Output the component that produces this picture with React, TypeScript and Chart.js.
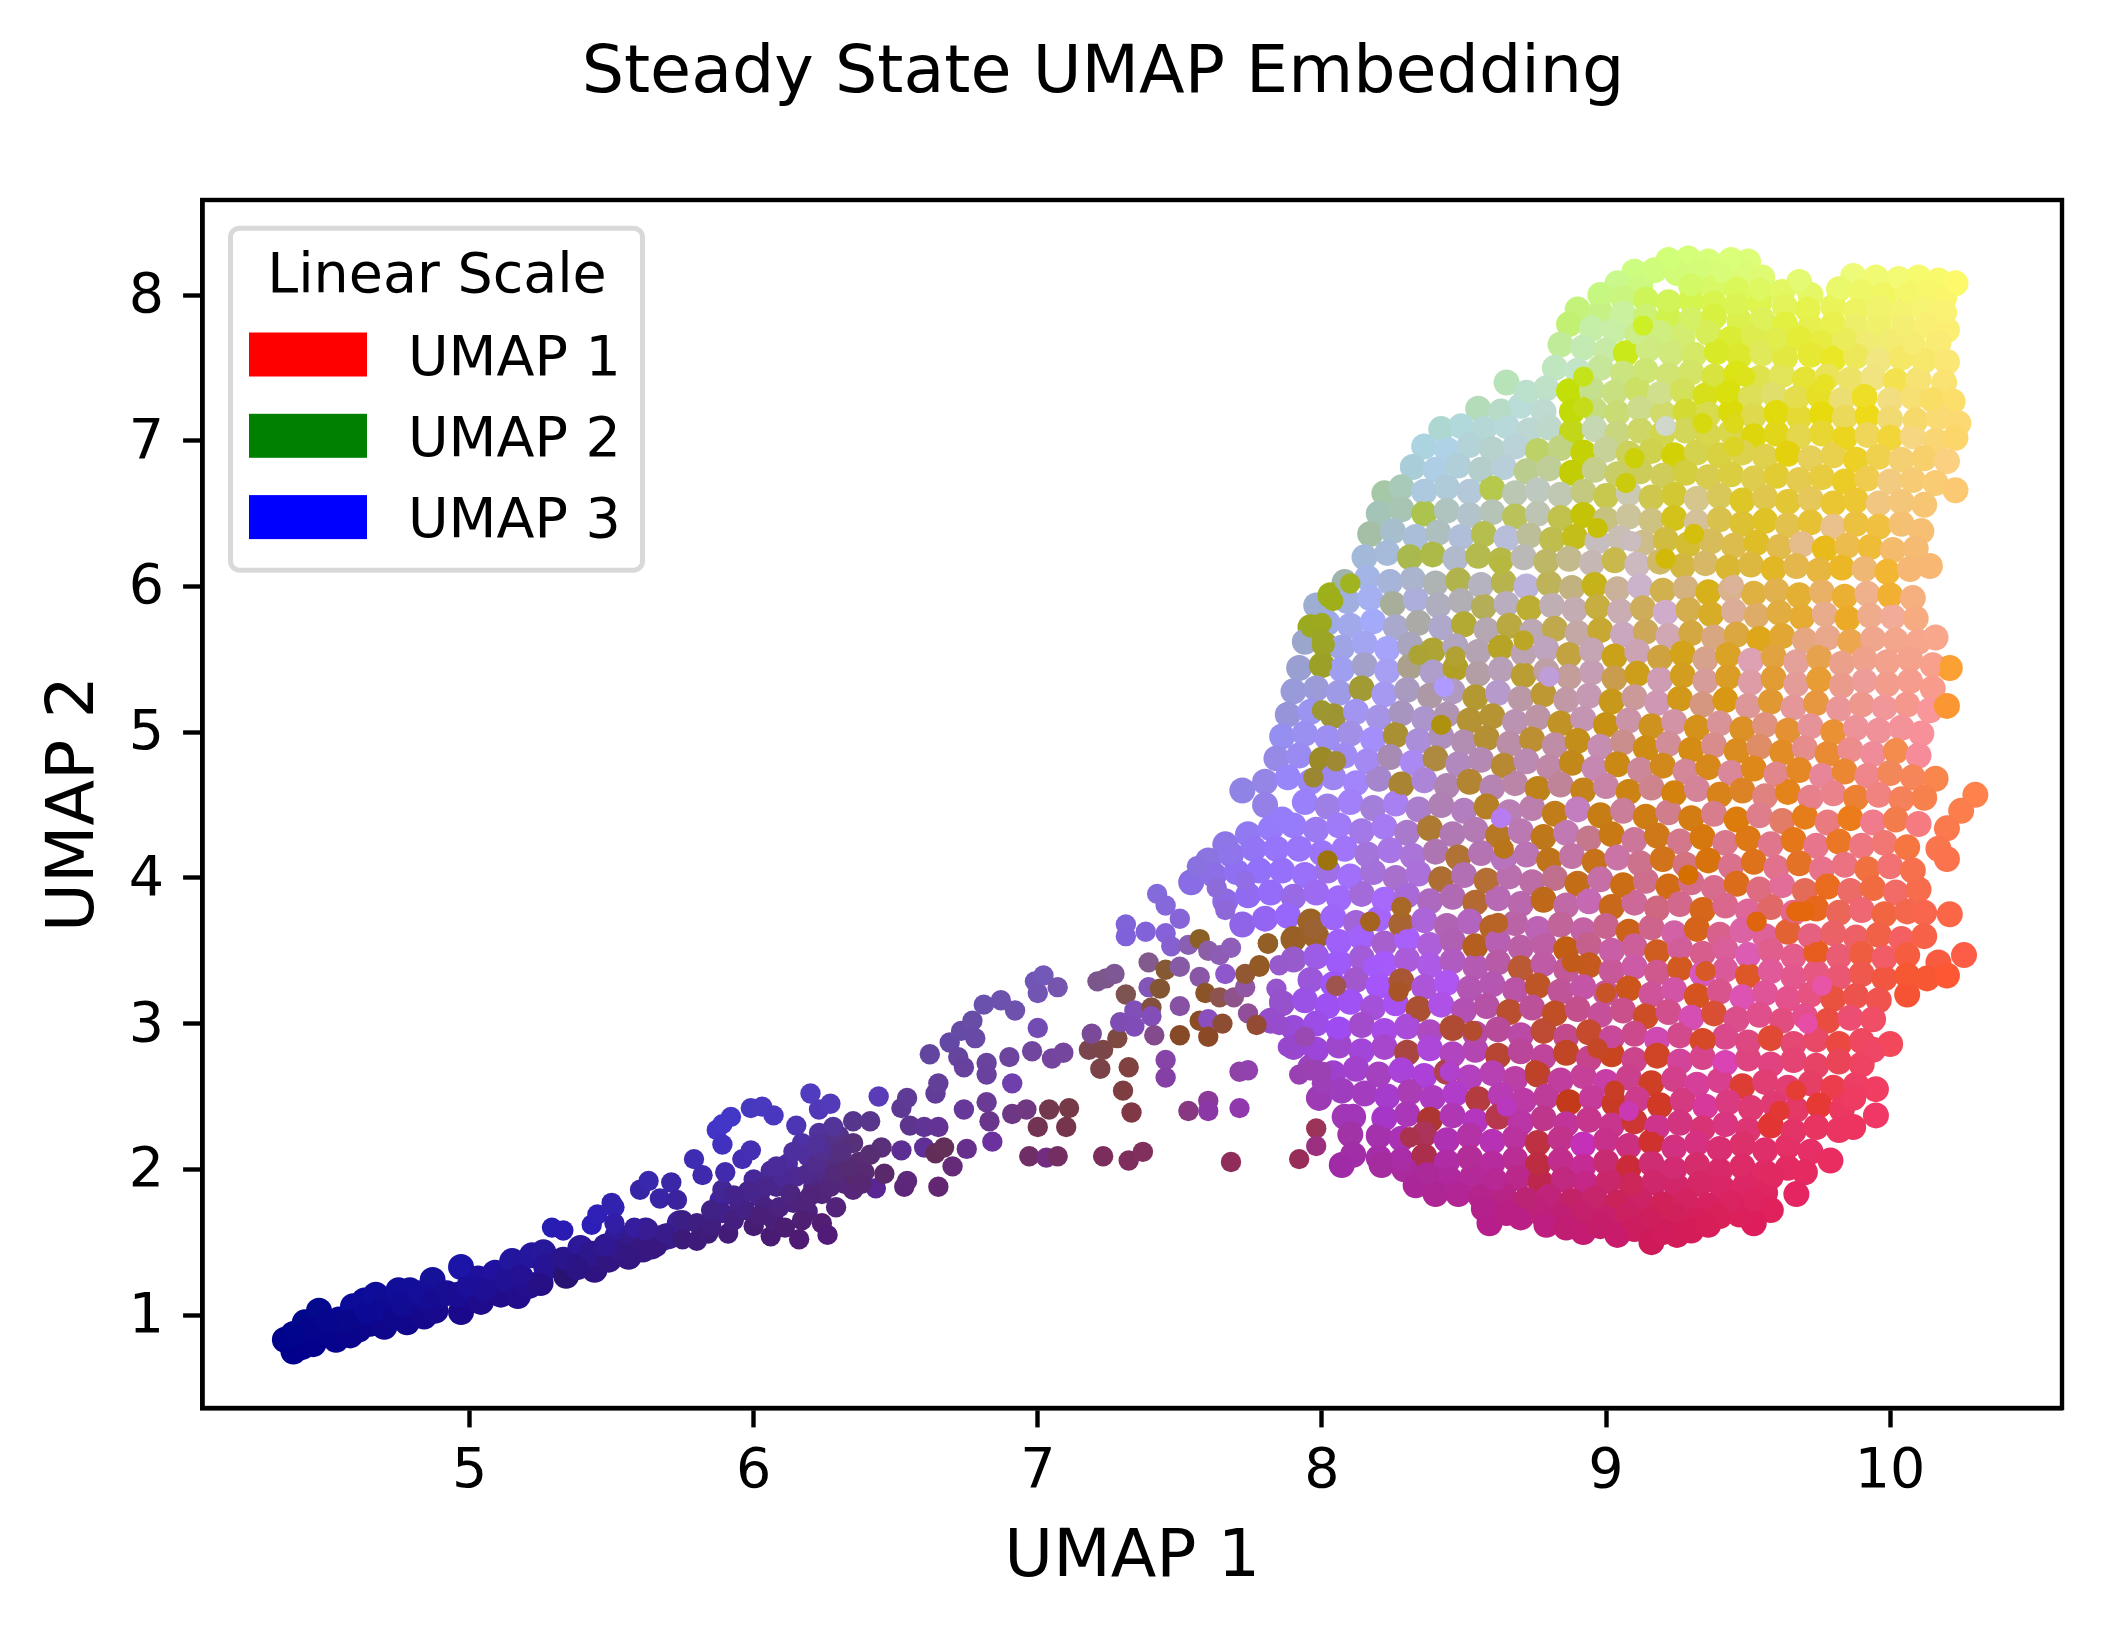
import { useEffect, useRef } from 'react';
import { Chart, registerables } from 'chart.js';

Chart.register(...registerables);

const chartTitle = 'Steady State UMAP Embedding';
const legendTitle = 'Linear Scale';
const legendLabels = ['UMAP 1', 'UMAP 2', 'UMAP 3'];
const legendColors = ['#ff0000', '#008000', '#0000ff'];
const xTicks = [5, 6, 7, 8, 9, 10];
const yTicks = [1, 2, 3, 4, 5, 6, 7, 8];

// flat triples: umap1, umap2, umap3 (0..1, the blue channel)
const tail = [
4.35,.83,.55, 4.38,.75,.55, 4.41,.78,.55, 4.38,.87,.55, 4.42,.95,.55, 4.47,1.03,.55, 4.48,.87,.55, 4.45,.8,.55, 4.44,.9,.55, 4.5,.95,.55, 4.53,.83,.55, 4.52,.9,.55, 4.58,.86,.55, 4.54,.97,.58, 4.59,1.06,.6, 4.57,.95,.55, 4.61,.9,.55, 4.63,1.1,.6, 4.64,1,.58, 4.67,1.14,.6, 4.65,.94,.55, 4.69,1.03,.58, 4.7,.92,.55, 4.72,1.1,.58, 4.73,.98,.55, 4.75,1.17,.6, 4.79,1.17,.6, 4.76,1.06,.58, 4.78,.95,.55, 4.81,1.08,.58, 4.83,1.15,.6, 4.84,.99,.55, 4.87,1.24,.6, 4.86,1.1,.58, 4.88,1.03,.55, 4.92,1.15,.58, 4.97,1.33,.65, 4.97,1.02,.55, 4.96,1.14,.58, 5,1.2,.6, 5.03,1.25,.62, 5.04,1.09,.55, 5.06,1.18,.58, 5.09,1.29,.62, 5.11,1.14,.55, 5.13,1.24,.58, 5.17,1.13,.55, 5.15,1.37,.62, 5.18,1.26,.58, 5.22,1.41,.62, 5.21,1.2,.55, 5.25,1.22,.52, 5.26,1.43,.6, 5.27,1.33,.58, 5.33,1.38,.55, 5.34,1.27,.45, 5.39,1.46,.6, 5.38,1.33,.52, 5.44,1.31,.5, 5.43,1.42,.55, 5.49,1.38,.5, 5.48,1.47,.55, 5.52,1.54,.6, 5.53,1.43,.52, 5.56,1.4,.5, 5.58,1.52,.55, 5.62,1.58,.6, 5.61,1.45,.5, 5.64,1.47,.5, 5.68,1.53,.52, 5.7,1.54,.55, 5.74,1.63,.6,
];

const bridge = [
5.29,1.6,.7, 5.33,1.58,.7, 5.43,1.62,.72, 5.45,1.69,.72, 5.51,1.74,.72, 5.5,1.77,.68, 5.51,1.63,.65, 5.48,1.47,.58, 5.56,1.42,.5, 5.58,1.6,.62, 5.6,1.86,.65, 5.63,1.92,.68, 5.63,1.58,.58, 5.66,1.47,.5, 5.67,1.8,.65, 5.69,1.56,.55, 5.71,1.91,.66, 5.73,1.79,.62, 5.75,1.65,.52, 5.75,1.52,.48, 5.79,2.07,.7, 5.8,1.63,.5, 5.8,1.51,.48, 5.82,1.96,.68, 5.84,1.56,.48, 5.87,2.27,.78, 5.88,1.79,.62, 5.89,1.86,.58, 5.89,1.7,.55, 5.89,2.17,.75, 5.89,2.31,.78, 5.9,1.98,.68, 5.91,1.56,.48, 5.92,2.36,.78, 5.95,1.74,.52, 5.96,2.07,.7, 5.99,2.42,.75, 5.99,2.13,.7, 6,1.93,.6, 6,1.61,.45, 6.02,1.81,.55, 6.03,2.43,.75, 6.04,1.74,.5, 6.06,1.54,.45, 6.06,1.99,.6, 6.07,2.37,.75, 6.07,1.65,.48, 6.08,1.88,.55, 6.11,1.88,.55, 6.12,2.04,.62, 6.14,1.77,.5, 6.15,2.3,.7, 6.16,1.52,.45, 6.17,2.18,.65, 6.15,1.95,.58, 6.19,2.09,.62, 6.19,1.71,.48, 6.2,2.52,.75, 6.21,1.88,.52, 6.23,2.41,.72, 6.23,2.25,.62, 6.24,1.83,.48, 6.24,1.63,.45, 6.26,2.18,.55, 6.26,1.55,.48, 6.27,2.45,.72, 6.25,1.98,.52, 6.28,2.06,.5, 6.29,1.74,.48, 6.3,2.23,.52, 6.32,1.9,.48, 6.35,2.33,.55, 6.35,2.18,.48, 6.35,1.86,.48, 6.36,1.95,.42, 6.37,2.05,.45, 6.41,2.33,.55, 6.43,1.87,.58, 6.44,2.5,.72, 6.45,2.15,.48, 6.46,1.97,.42, 6.52,2.42,.58, 6.52,2.13,.58, 6.53,1.88,.48, 6.54,2.49,.58, 6.54,1.92,.48, 6.55,2.3,.55, 6.6,2.29,.58, 6.6,2.15,.6, 6.62,2.79,.62, 6.64,2.11,.35, 6.64,2.52,.6, 6.65,2.29,.58, 6.65,2.59,.6, 6.65,1.88,.45, 6.67,2.15,.35, 6.69,2.87,.65, 6.7,2.02,.48, 6.72,2.77,.62, 6.73,2.95,.65, 6.74,2.7,.62, 6.74,2.41,.6, 6.75,2.14,.55, 6.77,3.02,.65, 6.78,2.9,.65, 6.81,3.13,.68, 6.82,2.73,.62, 6.82,2.65,.62, 6.82,2.46,.58, 6.83,2.33,.55, 6.84,2.19,.62, 6.87,3.16,.68, 6.9,2.77,.62, 6.91,2.59,.68, 6.91,2.38,.52, 6.92,3.09,.68, 6.96,2.41,.5, 6.97,2.09,.4, 6.98,2.81,.62, 6.99,3.29,.72, 7,2.97,.7, 7,3.21,.7, 7,2.29,.32, 7.02,3.33,.72, 7.03,2.08,.5, 7.04,2.41,.3, 7.05,2.76,.62, 7.07,3.25,.68, 7.07,2.09,.38, 7.09,2.8,.62, 7.1,2.29,.3, 7.11,2.42,.28, 7.18,2.82,.3, 7.19,2.93,.6, 7.21,3.29,.55, 7.22,2.69,.28, 7.23,2.82,.28, 7.23,2.09,.36, 7.24,3.31,.55, 7.27,3.34,.58, 7.28,2.9,.25, 7.29,3.01,.7, 7.3,2.54,.25, 7.31,3.2,.32, 7.31,3.68,.85, 7.31,3.6,.85, 7.32,2.7,.25, 7.32,2.06,.36, 7.33,2.39,.28, 7.34,3.09,.72, 7.34,2.98,.72, 7.37,2.12,.36, 7.38,3.63,.85, 7.39,3.42,.55, 7.39,3.25,.72, 7.4,3.11,.25, 7.4,3.05,.72, 7.41,2.92,.55, 7.42,3.89,.85, 7.43,3.24,.2, 7.45,3.37,.2, 7.45,3.81,.85, 7.45,3.62,.85, 7.45,2.75,.65, 7.45,2.63,.65, 7.47,3.53,.82, 7.5,3.39,.65, 7.5,3.12,.65, 7.5,2.92,.15, 7.5,3.72,.85, 7.53,2.4,.5, 7.53,3.54,.7, 7.54,3.97,.9, 7.56,4.08,.88, 7.57,3.58,.15, 7.57,3.32,.65, 7.57,3.02,.15, 7.59,3.21,.15, 7.6,3.5,.65, 7.6,3.03,.75, 7.6,2.91,.15, 7.6,2.47,.6, 7.6,2.4,.65, 7.63,3.93,.85, 7.64,3.47,.7, 7.64,3.18,.3, 7.65,3,.2, 7.66,3.78,.85, 7.66,3.34,.8, 7.68,3.52,.72, 7.68,2.05,.35, 7.69,3.18,.55, 7.71,2.67,.65, 7.71,2.42,.68, 7.73,3.98,.9, 7.73,3.25,.65, 7.73,3.34,.2, 7.74,3.07,.6, 7.74,2.68,.68, 7.77,2.99,.2, 7.78,3.4,.15, 7.81,3.55,.15, 7.84,3.24,.8, 7.85,3.4,.8, 7.85,3.16,.8, 7.85,2.99,.8, 7.88,2.84,.8, 7.92,2.07,.35, 7.92,2.65,.7, 7.94,2.91,.7, 7.96,2.68,.7, 7.98,2.49,.7, 7.98,2.28,.35, 7.98,2.16,.5, 8,2.59,.72, 8,2.67,.7,
5.85,1.62,.5, 5.93,1.65,.5, 5.97,1.72,.52, 6.02,1.68,.48, 6.09,1.74,.5, 6.11,1.6,.45, 6.17,1.65,.45, 6.04,1.88,.55, 6.1,1.95,.58, 6.08,2.02,.6, 6.13,1.83,.5, 6.18,1.78,.48, 6.19,1.97,.55, 6.22,2.03,.55, 6.2,1.82,.48, 6.27,1.88,.48, 6.29,1.97,.48, 6.33,2.02,.45, 6.31,2.12,.5, 6.24,2.12,.55, 6.39,1.98,.45, 6.41,2.1,.45, 6.38,1.9,.45, 6.14,2.12,.62, 6.22,2.17,.6, 6.28,2.29,.6, 5.98,1.85,.55, 5.93,1.82,.55, 5.85,1.72,.52,
];

const bandTop = [
9.22,8.24,.47, 9.29,8.25,.47, 9.36,8.23,.47, 9.44,8.24,.47, 9.5,8.23,.47, 9.1,8.16,.5, 9.17,8.17,.48, 9.25,8.15,.47, 9.33,8.16,.47, 9.41,8.15,.47, 9.48,8.16,.47, 9.55,8.12,.45, 9.68,8.09,.45, 9.87,8.13,.47, 9.95,8.12,.45, 10.03,8.11,.45, 10.1,8.12,.43, 10.17,8.1,.42, 10.23,8.08,.42,
9.04,8.08,.55, 9.12,8.06,.5, 9.3,8.06,.4, 9.38,8.05,.4, 9.46,8.04,.35, 9.54,8.03,.38, 9.62,8.02,.38, 9.72,8,.4, 9.82,8.04,.42, 9.9,8.02,.4, 9.98,8,.38, 10.06,8.02,.42, 10.13,8.02,.42, 10.19,7.98,.42,
8.98,8,.5, 9.06,7.98,.5, 9.14,7.97,.35, 9.22,7.95,.35, 9.3,7.96,.3, 9.38,7.94,.3, 9.46,7.93,.33, 9.54,7.95,.3, 9.63,7.92,.35, 9.71,7.9,.3, 9.8,7.92,.35, 9.88,7.89,.38, 9.96,7.91,.42, 10.04,7.88,.43, 10.12,7.9,.45, 10.19,7.88,.45,
8.9,7.9,.48, 8.98,7.88,.52, 9.06,7.87,.62, 9.14,7.85,.45, 9.22,7.84,.3, 9.3,7.83,.4, 9.38,7.85,.25, 9.47,7.82,.3, 9.55,7.83,.35, 9.63,7.8,.25, 9.72,7.78,.3, 9.8,7.8,.3, 9.88,7.78,.42, 9.96,7.8,.42, 10.05,7.78,.45, 10.13,7.79,.45, 10.2,7.76,.45,
8.87,7.8,.45, 8.95,7.77,.65, 9.03,7.76,.65, 9.11,7.73,.55, 9.19,7.74,.5, 9.27,7.72,.45, 9.36,7.74,.35, 9.44,7.7,.2, 9.52,7.72,.3, 9.6,7.69,.3, 9.68,7.7,.22, 9.76,7.67,.25, 9.84,7.69,.35, 9.92,7.66,.45, 10,7.68,.45, 10.08,7.66,.45, 10.17,7.67,.45,
8.84,7.66,.6, 8.92,7.64,.7, 9,7.62,.65, 9.07,7.6,.1, 9.15,7.63,.5, 9.23,7.6,.48, 9.31,7.59,.4, 9.39,7.61,.15, 9.47,7.58,.18, 9.55,7.6,.35, 9.63,7.57,.25, 9.72,7.59,.2, 9.8,7.56,.15, 9.88,7.58,.35, 9.96,7.55,.5, 10.04,7.57,.4, 10.12,7.55,.42, 10.2,7.54,.45,
8.82,7.5,.75, 8.9,7.48,.78, 8.98,7.5,.6, 9.06,7.46,.5, 9.14,7.48,.45, 9.22,7.45,.45, 9.3,7.47,.4, 9.38,7.44,.25, 9.46,7.46,.08, 9.54,7.43,.3, 9.62,7.45,.35, 9.7,7.42,.2, 9.78,7.44,.35, 9.86,7.42,.4, 9.94,7.43,.5, 10.02,7.41,.3, 10.1,7.42,.45, 10.19,7.4,.45,
8.65,7.4,.72, 8.72,7.33,.8, 8.79,7.36,.78, 8.87,7.34,.03, 8.95,7.35,.55, 9.03,7.33,.5, 9.11,7.35,.4, 9.19,7.32,.55, 9.27,7.34,.35, 9.35,7.31,.1, 9.43,7.33,.05, 9.51,7.3,.35, 9.59,7.32,.42, 9.67,7.29,.3, 9.75,7.31,.15, 9.83,7.28,.45, 9.91,7.3,.15, 10,7.28,.5, 10.08,7.3,.45, 10.15,7.28,.4, 10.22,7.27,.42,
8.55,7.22,.72, 8.63,7.2,.78, 8.7,7.24,.85, 8.78,7.2,.82, 8.88,7.2,.03, 8.96,7.21,.5, 9.04,7.19,.45, 9.12,7.22,.55, 9.2,7.19,.42, 9.28,7.2,.2, 9.36,7.18,.3, 9.44,7.2,.03, 9.52,7.17,.3, 9.6,7.19,.05, 9.68,7.16,.2, 9.76,7.18,.05, 9.84,7.16,.35, 9.92,7.17,.1, 10,7.15,.45, 10.09,7.14,.42, 10.17,7.16,.45, 10.24,7.12,.45,
8.42,7.08,.82, 8.49,7.1,.86, 8.57,7.08,.84, 8.65,7.1,.85, 8.73,7.07,.82, 8.8,7.09,.8, 8.88,7.06,.1, 8.96,7.08,.7, 9.04,7.05,.5, 9.12,7.07,.4, 9.2,7.05,.3, 9.28,7.07,.35, 9.36,7.04,.3, 9.44,7.06,.3, 9.52,7.03,.05, 9.6,7.05,.1, 9.68,7.03,.3, 9.76,7.05,.2, 9.84,7.02,.12, 9.92,7.04,.35, 10,7.02,.22, 10.08,7.03,.5, 10.16,7,.45, 10.23,7.02,.42,
];

const bandUpper = [
8.36,6.96,.88, 8.44,6.94,.9, 8.52,6.97,.85, 8.6,6.94,.8, 8.68,6.96,.85, 8.76,6.93,.4, 8.84,6.95,.5, 8.92,6.92,.02, 9,6.94,.6, 9.08,6.91,.35, 9.16,6.93,.3, 9.24,6.9,.02, 9.32,6.92,.3, 9.4,6.9,.25, 9.48,6.92,.3, 9.56,6.89,.3, 9.64,6.91,.05, 9.72,6.88,.35, 9.8,6.9,.3, 9.88,6.87,.15, 9.96,6.89,.3, 10.04,6.87,.45, 10.12,6.88,.42, 10.2,6.86,.5,
8.32,6.82,.85, 8.4,6.8,.9, 8.48,6.83,.85, 8.56,6.8,.8, 8.64,6.82,.85, 8.72,6.79,.55, 8.8,6.81,.6, 8.88,6.78,.02, 8.96,6.8,.55, 9.04,6.77,.4, 9.12,6.79,.35, 9.2,6.76,.35, 9.28,6.78,.25, 9.36,6.75,.3, 9.44,6.77,.25, 9.52,6.74,.3, 9.6,6.76,.2, 9.68,6.73,.3, 9.76,6.75,.25, 9.84,6.72,.15, 9.92,6.74,.3, 10,6.72,.5, 10.08,6.73,.45, 10.16,6.71,.45, 10.23,6.66,.45,
8.22,6.64,.65, 8.28,6.68,.72, 8.36,6.65,.88, 8.44,6.68,.85, 8.52,6.65,.85, 8.6,6.67,.3, 8.68,6.64,.7, 8.76,6.66,.75, 8.84,6.63,.7, 8.92,6.65,.5, 9,6.62,.3, 9.08,6.64,.7, 9.16,6.61,.3, 9.24,6.63,.2, 9.32,6.6,.55, 9.4,6.62,.35, 9.48,6.59,.15, 9.56,6.61,.3, 9.64,6.58,.2, 9.72,6.6,.35, 9.8,6.57,.2, 9.88,6.59,.2, 9.96,6.57,.5, 10.04,6.58,.48, 10.12,6.56,.45,
8.2,6.5,.72, 8.28,6.53,.7, 8.36,6.5,.3, 8.44,6.52,.75, 8.52,6.49,.8, 8.6,6.51,.72, 8.68,6.48,.35, 8.76,6.5,.7, 8.84,6.47,.3, 8.92,6.49,.03, 9,6.46,.5, 9.08,6.48,.6, 9.16,6.45,.5, 9.24,6.47,.1, 9.32,6.44,.6, 9.4,6.46,.3, 9.48,6.43,.2, 9.56,6.45,.15, 9.64,6.42,.3, 9.72,6.44,.2, 9.8,6.41,.55, 9.88,6.43,.25, 9.96,6.41,.25, 10.04,6.43,.45, 10.11,6.38,.45,
8.17,6.36,.65, 8.25,6.38,.8, 8.33,6.34,.85, 8.41,6.37,.75, 8.49,6.34,.85, 8.57,6.36,.3, 8.65,6.33,.85, 8.73,6.35,.6, 8.81,6.32,.3, 8.89,6.34,.1, 8.97,6.31,.75, 9.05,6.33,.7, 9.13,6.3,.55, 9.21,6.32,.25, 9.29,6.29,.2, 9.37,6.31,.35, 9.45,6.28,.3, 9.53,6.3,.15, 9.61,6.27,.3, 9.69,6.29,.55, 9.77,6.26,.1, 9.85,6.28,.3, 9.93,6.27,.22, 10.01,6.25,.42, 10.09,6.26,.45,
8.15,6.2,.85, 8.23,6.23,.85, 8.31,6.2,.3, 8.39,6.22,.28, 8.47,6.19,.8, 8.55,6.21,.3, 8.63,6.18,.28, 8.71,6.2,.72, 8.79,6.17,.4, 8.87,6.19,.55, 8.95,6.16,.7, 9.03,6.18,.3, 9.11,6.15,.75, 9.19,6.17,.4, 9.27,6.14,.25, 9.35,6.16,.4, 9.43,6.13,.2, 9.51,6.15,.25, 9.59,6.12,.15, 9.67,6.14,.3, 9.75,6.11,.25, 9.83,6.13,.15, 9.91,6.12,.45, 9.99,6.1,.2, 10.07,6.12,.45, 10.14,6.14,.45,
8.08,6.03,.68, 8.16,6.06,.9, 8.24,6.03,.85, 8.32,6.05,.8, 8.4,6.02,.7, 8.48,6.04,.3, 8.56,6.01,.75, 8.64,6.03,.3, 8.72,6,.85, 8.8,6.02,.35, 8.88,5.99,.5, 8.96,6.01,.1, 9.04,5.98,.6, 9.12,6,.8, 9.2,5.97,.3, 9.28,5.99,.5, 9.36,5.96,.1, 9.44,5.98,.55, 9.52,5.95,.25, 9.6,5.97,.3, 9.68,5.94,.2, 9.76,5.96,.4, 9.84,5.93,.2, 9.92,5.95,.55, 10,5.94,.2, 10.08,5.92,.5,
7.98,5.87,.82, 8.03,5.94,.1, 8.09,5.9,.88, 8.17,5.92,.95, 8.25,5.88,.6, 8.33,5.91,.85, 8.41,5.87,.75, 8.49,5.9,.7, 8.57,5.86,.35, 8.65,5.88,.75, 8.73,5.85,.2, 8.81,5.87,.7, 8.89,5.84,.7, 8.97,5.86,.25, 9.05,5.83,.7, 9.13,5.85,.35, 9.21,5.82,.8, 9.29,5.84,.3, 9.37,5.81,.15, 9.45,5.83,.6, 9.53,5.8,.4, 9.61,5.82,.25, 9.69,5.79,.2, 9.77,5.81,.55, 9.85,5.78,.15, 9.93,5.8,.55, 10.01,5.79,.6, 10.09,5.78,.5,
7.96,5.72,.12, 7.94,5.62,.8, 8.02,5.75,.9, 8.1,5.73,.92, 8.18,5.76,.98, 8.26,5.72,.8, 8.34,5.75,.65, 8.42,5.72,.8, 8.5,5.74,.2, 8.58,5.7,.7, 8.66,5.73,.25, 8.74,5.69,.7, 8.82,5.71,.3, 8.9,5.68,.65, 8.98,5.7,.2, 9.06,5.67,.75, 9.14,5.69,.35, 9.22,5.66,.7, 9.3,5.68,.25, 9.38,5.65,.5, 9.46,5.67,.25, 9.54,5.64,.1, 9.62,5.66,.2, 9.7,5.63,.5, 9.78,5.65,.55, 9.86,5.62,.3, 9.94,5.64,.55, 10.02,5.63,.55, 10.1,5.62,.55, 10.16,5.65,.55,
8.01,5.6,.15, 8.07,5.58,.9, 8.15,5.61,.95, 8.23,5.57,.98, 8.31,5.6,.75, 8.39,5.56,.2, 8.47,5.59,.75, 8.55,5.55,.7, 8.63,5.58,.15, 8.71,5.54,.7, 8.79,5.57,.75, 8.87,5.53,.25, 8.95,5.56,.7, 9.03,5.52,.1, 9.11,5.55,.7, 9.19,5.51,.25, 9.27,5.54,.1, 9.35,5.5,.55, 9.43,5.53,.15, 9.51,5.49,.7, 9.59,5.52,.25, 9.67,5.48,.6, 9.75,5.51,.3, 9.83,5.47,.55, 9.91,5.5,.55, 9.99,5.48,.55, 10.07,5.5,.55, 10.15,5.46,.55, 10.21,5.44,.2,
];

const bandMiddle = [
7.92,5.44,.82, 8,5.46,.15, 8.07,5.43,.95, 8.15,5.46,.8, 8.23,5.42,.95, 8.31,5.45,.55, 8.39,5.41,.8, 8.47,5.44,.15, 8.55,5.4,.65, 8.63,5.43,.72, 8.71,5.39,.2, 8.79,5.42,.65, 8.87,5.38,.6, 8.95,5.41,.7, 9.03,5.37,.3, 9.11,5.4,.1, 9.19,5.36,.7, 9.27,5.39,.12, 9.35,5.35,.6, 9.43,5.38,.15, 9.51,5.34,.65, 9.59,5.37,.2, 9.67,5.33,.6, 9.75,5.36,.2, 9.83,5.32,.55, 9.91,5.35,.6, 9.99,5.33,.55, 10.07,5.35,.55, 10.15,5.3,.55,
7.9,5.28,.85, 7.98,5.3,.85, 8.06,5.27,.9, 8.14,5.3,.2, 8.22,5.26,.95, 8.3,5.29,.75, 8.38,5.25,.65, 8.46,5.28,.75, 8.54,5.24,.2, 8.62,5.27,.8, 8.7,5.23,.65, 8.78,5.26,.2, 8.86,5.22,.65, 8.94,5.25,.7, 9.02,5.21,.1, 9.1,5.24,.6, 9.18,5.2,.7, 9.26,5.23,.1, 9.34,5.19,.5, 9.42,5.22,.08, 9.5,5.18,.6, 9.58,5.21,.2, 9.66,5.17,.6, 9.74,5.2,.25, 9.82,5.16,.6, 9.9,5.19,.55, 9.98,5.17,.6, 10.06,5.19,.55, 10.14,5.15,.6, 10.2,5.18,.2,
7.88,5.12,.85, 7.96,5.14,.95, 8.04,5.11,.2, 8.12,5.14,.95, 8.2,5.1,.9, 8.28,5.13,.75, 8.36,5.09,.8, 8.44,5.12,.7, 8.52,5.08,.2, 8.6,5.11,.2, 8.68,5.07,.7, 8.76,5.1,.65, 8.84,5.06,.15, 8.92,5.09,.7, 9,5.05,.08, 9.08,5.08,.65, 9.16,5.04,.12, 9.24,5.07,.65, 9.32,5.03,.1, 9.4,5.06,.6, 9.48,5.02,.15, 9.56,5.05,.5, 9.64,5.01,.2, 9.72,5.04,.6, 9.8,5,.2, 9.88,5.03,.6, 9.96,5.01,.6, 10.04,5.03,.6, 10.11,4.99,.6,
7.86,4.97,.95, 7.94,4.99,.95, 8.02,4.96,.95, 8.1,4.99,.9, 8.18,4.95,.98, 8.26,4.98,.2, 8.34,4.94,.85, 8.42,4.97,.75, 8.5,4.93,.7, 8.58,4.96,.2, 8.66,4.92,.65, 8.74,4.95,.2, 8.82,4.91,.65, 8.9,4.94,.1, 8.98,4.9,.7, 9.06,4.93,.55, 9.14,4.89,.08, 9.22,4.92,.6, 9.3,4.88,.08, 9.38,4.91,.55, 9.46,4.87,.12, 9.54,4.9,.4, 9.62,4.86,.15, 9.7,4.89,.55, 9.78,4.85,.2, 9.86,4.88,.55, 9.94,4.85,.6, 10.02,4.87,.3, 10.1,4.84,.6,
7.84,4.82,.9, 7.92,4.84,.95, 8,4.81,.15, 8.08,4.84,.95, 8.16,4.8,.95, 8.24,4.83,.7, 8.32,4.79,.95, 8.4,4.82,.25, 8.48,4.78,.75, 8.56,4.81,.7, 8.64,4.77,.2, 8.72,4.8,.7, 8.8,4.76,.65, 8.88,4.79,.1, 8.96,4.75,.7, 9.04,4.78,.08, 9.12,4.74,.6, 9.2,4.77,.1, 9.28,4.73,.6, 9.36,4.76,.1, 9.44,4.72,.6, 9.52,4.75,.1, 9.6,4.71,.55, 9.68,4.74,.15, 9.76,4.7,.6, 9.84,4.73,.2, 9.92,4.7,.55, 10,4.72,.35, 10.08,4.69,.35, 10.16,4.68,.3,
7.72,4.6,.9, 7.8,4.66,.9, 7.88,4.69,.98, 7.96,4.66,.98, 8.04,4.69,.95, 8.12,4.65,.98, 8.2,4.68,.8, 8.28,4.64,.2, 8.36,4.67,.85, 8.44,4.63,.7, 8.52,4.66,.2, 8.6,4.62,.7, 8.68,4.65,.65, 8.76,4.61,.1, 8.84,4.64,.6, 8.92,4.6,.1, 9,4.63,.65, 9.08,4.59,.08, 9.16,4.62,.55, 9.24,4.58,.05, 9.32,4.61,.6, 9.4,4.57,.1, 9.48,4.6,.15, 9.56,4.56,.5, 9.64,4.59,.1, 9.72,4.55,.55, 9.8,4.58,.55, 9.88,4.55,.2, 9.96,4.57,.5, 10.04,4.54,.35, 10.12,4.55,.3, 10.3,4.57,.3, 10.25,4.46,.3,
7.8,4.5,.9, 7.86,4.4,.98, 7.94,4.52,.98, 8.02,4.49,.9, 8.1,4.52,.98, 8.18,4.48,.85, 8.26,4.51,.95, 8.34,4.47,.8, 8.42,4.5,.7, 8.5,4.46,.75, 8.58,4.49,.15, 8.66,4.45,.7, 8.74,4.48,.68, 8.82,4.44,.1, 8.9,4.47,.75, 8.98,4.43,.08, 9.06,4.46,.6, 9.14,4.42,.08, 9.22,4.45,.55, 9.3,4.41,.08, 9.38,4.44,.55, 9.46,4.4,.05, 9.54,4.43,.55, 9.62,4.39,.4, 9.7,4.42,.1, 9.78,4.38,.5, 9.86,4.41,.1, 9.94,4.38,.55, 10.02,4.4,.3, 10.1,4.37,.5, 10.2,4.34,.3,
7.66,4.23,.9, 7.74,4.3,.95, 7.82,4.34,.98, 7.9,4.36,.98, 7.98,4.33,.95, 8.06,4.36,.98, 8.14,4.32,.9, 8.22,4.35,.95, 8.3,4.31,.8, 8.38,4.34,.2, 8.46,4.3,.7, 8.54,4.33,.7, 8.62,4.29,.15, 8.7,4.32,.7, 8.78,4.28,.1, 8.86,4.31,.7, 8.94,4.27,.55, 9.02,4.3,.08, 9.1,4.26,.6, 9.18,4.29,.1, 9.26,4.25,.55, 9.34,4.28,.05, 9.42,4.24,.55, 9.5,4.27,.08, 9.58,4.23,.55, 9.66,4.26,.1, 9.74,4.22,.55, 9.82,4.25,.15, 9.9,4.22,.5, 9.98,4.24,.45, 10.06,4.21,.25, 10.17,4.2,.3,
7.6,4.12,.88, 7.68,4.16,.92, 7.76,4.2,.95, 7.84,4.2,.98, 7.92,4.2,.98, 8,4.17,.98, 8.08,4.2,.98, 8.16,4.16,.85, 8.24,4.19,.9, 8.32,4.15,.85, 8.4,4.18,.7, 8.48,4.14,.2, 8.56,4.17,.7, 8.64,4.13,.75, 8.72,4.16,.7, 8.8,4.12,.1, 8.88,4.15,.65, 8.96,4.11,.1, 9.04,4.14,.65, 9.12,4.1,.55, 9.2,4.13,.1, 9.28,4.09,.5, 9.36,4.12,.05, 9.44,4.08,.55, 9.52,4.11,.1, 9.6,4.07,.55, 9.68,4.1,.15, 9.76,4.06,.55, 9.84,4.09,.5, 9.92,4.06,.25, 10,4.08,.45, 10.08,4.05,.3, 10.2,4.13,.3,
7.54,3.97,.88, 7.62,4.02,.9, 7.7,4.04,.95, 7.78,4.05,.98, 7.86,4.05,.98, 7.94,4.02,.98, 8.02,4.05,.9, 8.1,4.01,.98, 8.18,4.04,.85, 8.26,4,.8, 8.34,4.03,.85, 8.42,3.99,.2, 8.5,4.02,.7, 8.58,3.98,.2, 8.66,4.01,.68, 8.74,3.97,.65, 8.82,4,.55, 8.9,3.96,.12, 8.98,3.99,.65, 9.06,3.95,.08, 9.14,3.98,.55, 9.22,3.94,.08, 9.3,3.97,.55, 9.38,3.93,.55, 9.46,3.96,.1, 9.54,3.92,.5, 9.62,3.95,.6, 9.7,3.91,.35, 9.78,3.94,.12, 9.86,3.91,.4, 9.94,3.93,.25, 10.02,3.9,.4, 10.1,3.92,.3,
];

const bandLower = [
7.66,3.84,.9, 7.74,3.88,.95, 7.82,3.9,.98, 7.9,3.87,.9, 7.98,3.9,.95, 8.06,3.86,.98, 8.14,3.89,.85, 8.22,3.85,.98, 8.3,3.88,.85, 8.38,3.84,.75, 8.46,3.87,.7, 8.54,3.83,.2, 8.62,3.86,.7, 8.7,3.82,.68, 8.78,3.85,.1, 8.86,3.81,.65, 8.94,3.84,.7, 9.02,3.8,.1, 9.1,3.83,.6, 9.18,3.79,.5, 9.26,3.82,.55, 9.34,3.78,.1, 9.42,3.81,.55, 9.5,3.77,.6, 9.58,3.8,.4, 9.66,3.76,.55, 9.74,3.79,.12, 9.82,3.76,.35, 9.9,3.78,.45, 9.98,3.75,.25, 10.06,3.77,.3, 10.12,3.76,.3, 10.21,3.75,.28,
7.72,3.68,.9, 7.8,3.72,.95, 7.88,3.74,.98, 7.96,3.7,.15, 8.04,3.73,.98, 8.12,3.69,.85, 8.2,3.72,.98, 8.28,3.68,.2, 8.36,3.71,.85, 8.44,3.67,.7, 8.52,3.7,.75, 8.6,3.66,.15, 8.68,3.69,.65, 8.76,3.65,.7, 8.84,3.68,.6, 8.92,3.64,.65, 9,3.67,.55, 9.08,3.63,.1, 9.16,3.66,.55, 9.24,3.62,.65, 9.32,3.65,.1, 9.4,3.61,.55, 9.48,3.64,.65, 9.56,3.6,.6, 9.64,3.63,.2, 9.72,3.6,.5, 9.8,3.62,.4, 9.88,3.59,.4, 9.96,3.61,.28, 10.04,3.58,.38, 10.12,3.6,.28, 10.26,3.47,.28,
7.9,3.58,.15, 7.98,3.6,.15, 8.06,3.56,.98, 8.14,3.59,.98, 8.22,3.55,.8, 8.3,3.58,.98, 8.38,3.54,.85, 8.46,3.57,.7, 8.54,3.53,.12, 8.62,3.56,.7, 8.7,3.52,.65, 8.78,3.55,.65, 8.86,3.51,.08, 8.94,3.54,.55, 9.02,3.5,.65, 9.1,3.53,.6, 9.18,3.49,.12, 9.26,3.52,.6, 9.34,3.48,.55, 9.42,3.51,.6, 9.5,3.47,.7, 9.58,3.5,.55, 9.66,3.46,.55, 9.74,3.49,.12, 9.82,3.46,.45, 9.9,3.48,.25, 9.98,3.45,.4, 10.06,3.47,.25, 10.17,3.42,.25,
7.9,3.44,.8, 7.98,3.46,.9, 8.06,3.42,.98, 8.14,3.45,.85, 8.22,3.41,.98, 8.3,3.44,.85, 8.38,3.4,.9, 8.46,3.43,.75, 8.54,3.39,.7, 8.62,3.42,.65, 8.7,3.38,.2, 8.78,3.41,.65, 8.86,3.37,.6, 8.94,3.4,.12, 9.02,3.36,.6, 9.1,3.39,.65, 9.18,3.35,.55, 9.26,3.38,.12, 9.34,3.34,.75, 9.42,3.37,.6, 9.5,3.33,.15, 9.58,3.36,.6, 9.66,3.32,.55, 9.74,3.35,.5, 9.82,3.32,.45, 9.9,3.34,.3, 9.98,3.31,.25, 10.06,3.33,.2, 10.13,3.31,.2, 10.2,3.33,.2,
7.96,3.3,.85, 8.04,3.27,.98, 8.12,3.3,.8, 8.2,3.26,.98, 8.28,3.29,.2, 8.36,3.25,.85, 8.44,3.28,.95, 8.52,3.24,.7, 8.6,3.27,.7, 8.68,3.23,.65, 8.76,3.26,.15, 8.84,3.22,.6, 8.92,3.25,.65, 9,3.21,.6, 9.08,3.24,.1, 9.16,3.2,.6, 9.24,3.23,.65, 9.32,3.19,.12, 9.4,3.22,.55, 9.48,3.18,.7, 9.56,3.21,.6, 9.64,3.17,.55, 9.72,3.2,.5, 9.8,3.17,.25, 9.88,3.19,.3, 9.96,3.16,.3, 10.06,3.2,.2,
7.86,3.14,.8, 7.94,3.16,.9, 8.02,3.12,.95, 8.1,3.15,.95, 8.18,3.11,.85, 8.26,3.14,.95, 8.34,3.1,.2, 8.42,3.13,.9, 8.5,3.09,.7, 8.58,3.12,.65, 8.66,3.08,.18, 8.74,3.11,.6, 8.82,3.07,.15, 8.9,3.1,.55, 8.98,3.06,.6, 9.06,3.09,.55, 9.14,3.05,.15, 9.22,3.08,.55, 9.3,3.04,.7, 9.38,3.07,.2, 9.46,3.03,.55, 9.54,3.06,.55, 9.62,3.02,.5, 9.7,3.05,.55, 9.78,3.02,.25, 9.86,3.04,.45, 9.94,3.03,.4,
7.82,3.02,.8, 7.9,2.97,.85, 7.98,3.0,.9, 8.06,2.96,.95, 8.14,2.99,.8, 8.22,2.95,.9, 8.3,2.98,.85, 8.38,2.94,.75, 8.46,2.97,.2, 8.54,2.93,.65, 8.62,2.96,.6, 8.7,2.92,.65, 8.78,2.95,.2, 8.86,2.91,.55, 8.94,2.94,.18, 9.02,2.9,.6, 9.1,2.93,.55, 9.18,2.89,.7, 9.26,2.92,.55, 9.34,2.88,.15, 9.42,2.91,.55, 9.5,2.87,.5, 9.58,2.9,.2, 9.66,2.86,.45, 9.74,2.89,.4, 9.82,2.86,.25, 9.9,2.88,.38, 9.94,2.82,.4, 10,2.86,.35,
7.9,2.84,.82, 7.98,2.82,.85, 8.06,2.85,.8, 8.14,2.81,.85, 8.22,2.84,.8, 8.3,2.8,.25, 8.38,2.83,.85, 8.46,2.79,.75, 8.54,2.82,.7, 8.62,2.78,.2, 8.7,2.81,.6, 8.78,2.77,.6, 8.86,2.8,.15, 8.94,2.76,.55, 9.02,2.79,.12, 9.1,2.75,.55, 9.18,2.78,.15, 9.26,2.74,.6, 9.34,2.77,.55, 9.42,2.73,.7, 9.5,2.76,.5, 9.58,2.72,.5, 9.66,2.75,.45, 9.74,2.71,.4, 9.82,2.74,.35, 9.9,2.72,.38,
7.96,2.7,.75, 8.04,2.66,.8, 8.12,2.69,.8, 8.2,2.65,.75, 8.28,2.68,.85, 8.36,2.64,.85, 8.44,2.67,.3, 8.52,2.63,.75, 8.6,2.66,.7, 8.68,2.62,.65, 8.76,2.65,.18, 8.84,2.61,.62, 8.92,2.64,.6, 9,2.6,.65, 9.08,2.63,.55, 9.16,2.59,.15, 9.24,2.62,.55, 9.32,2.58,.6, 9.4,2.61,.55, 9.48,2.57,.2, 9.56,2.6,.45, 9.64,2.56,.45, 9.72,2.59,.4, 9.8,2.56,.3, 9.88,2.58,.4, 9.95,2.55,.38,
7.99,2.49,.7, 8.07,2.54,.75, 8.15,2.52,.75, 8.23,2.5,.8, 8.31,2.53,.7, 8.39,2.49,.75, 8.47,2.52,.8, 8.55,2.48,.25, 8.63,2.51,.7, 8.71,2.47,.65, 8.79,2.5,.6, 8.87,2.46,.1, 8.95,2.49,.6, 9.03,2.45,.15, 9.11,2.48,.55, 9.19,2.44,.15, 9.27,2.47,.5, 9.35,2.43,.6, 9.43,2.46,.5, 9.51,2.42,.45, 9.59,2.45,.45, 9.67,2.41,.4, 9.75,2.44,.2, 9.83,2.41,.38, 9.87,2.49,.38,
];

const bandBottom = [
8.08,2.36,.7, 8.11,2.36,.72, 8.22,2.35,.78, 8.3,2.38,.72, 8.38,2.34,.2, 8.46,2.37,.7, 8.54,2.33,.75, 8.62,2.36,.3, 8.7,2.32,.65, 8.78,2.35,.55, 8.86,2.31,.6, 8.94,2.34,.55, 9.02,2.3,.55, 9.1,2.33,.2, 9.18,2.29,.55, 9.26,2.32,.5, 9.34,2.28,.45, 9.42,2.31,.5, 9.5,2.27,.45, 9.58,2.3,.2, 9.66,2.26,.4, 9.74,2.29,.38, 9.82,2.27,.38, 9.95,2.37,.4, 9.87,2.29,.38,
8.1,2.24,.65, 8.2,2.23,.68, 8.28,2.21,.7, 8.36,2.24,.35, 8.44,2.2,.7, 8.52,2.23,.65, 8.6,2.19,.7, 8.68,2.22,.62, 8.76,2.18,.25, 8.84,2.21,.55, 8.92,2.17,.72, 9,2.2,.55, 9.08,2.16,.5, 9.16,2.19,.18, 9.24,2.15,.5, 9.32,2.18,.5, 9.4,2.14,.45, 9.48,2.17,.42, 9.56,2.13,.42, 9.64,2.16,.4, 9.72,2.12,.4, 9.79,2.06,.38,
8.07,2.03,.65, 8.11,2.1,.65, 8.2,2.08,.66, 8.28,2.06,.65, 8.36,2.09,.3, 8.44,2.05,.65, 8.52,2.08,.6, 8.6,2.04,.62, 8.68,2.07,.58, 8.76,2.03,.25, 8.84,2.06,.55, 8.92,2.02,.58, 9,2.05,.45, 9.08,2.01,.22, 9.16,2.04,.45, 9.24,2,.45, 9.32,2.03,.42, 9.4,1.99,.42, 9.48,2.02,.4, 9.56,1.98,.4, 9.64,2.01,.38, 9.7,1.98,.38,
8.21,2.03,.62, 8.29,2,.62, 8.37,1.96,.6, 8.45,1.93,.62, 8.53,1.95,.6, 8.61,1.92,.58, 8.69,1.94,.55, 8.77,1.91,.3, 8.85,1.93,.5, 8.93,1.9,.52, 9.01,1.92,.42, 9.09,1.89,.35, 9.17,1.91,.42, 9.25,1.88,.42, 9.33,1.9,.4, 9.41,1.87,.4, 9.49,1.89,.4, 9.58,1.95,.38, 9.67,1.83,.38, 9.56,1.84,.38, 9.52,1.78,.38,
8.33,1.89,.6, 8.4,1.83,.58, 8.48,1.83,.58, 8.56,1.81,.55, 8.64,1.82,.52, 8.72,1.79,.45, 8.8,1.81,.48, 8.88,1.78,.4, 8.96,1.8,.42, 9.04,1.77,.35, 9.12,1.79,.4, 9.2,1.76,.35, 9.28,1.78,.38, 9.36,1.75,.38, 9.44,1.77,.38, 9.58,1.72,.36, 9.52,1.63,.36,
8.57,1.73,.55, 8.59,1.63,.55, 8.65,1.7,.52, 8.7,1.67,.52, 8.76,1.71,.48, 8.84,1.68,.45, 8.92,1.7,.42, 9,1.66,.42, 9.08,1.69,.38, 9.16,1.66,.36, 9.24,1.68,.36, 9.32,1.65,.36, 9.4,1.68,.35, 9.47,1.69,.36,
8.79,1.62,.5, 8.86,1.6,.45, 8.92,1.57,.45, 8.98,1.61,.42, 9.04,1.55,.42, 9.1,1.59,.38, 9.16,1.5,.35, 9.2,1.57,.36, 9.25,1.55,.35, 9.3,1.58,.35, 9.36,1.62,.35,
];

// the dots that stand out from their neighbours
const standouts = [
9.13,7.79,.15, 8.92,7.44,.1, 8.92,7.23,.1, 9.1,6.88,.03, 9.07,6.71,.05, 9.45,6.96,.15, 9.45,7.12,.1, 9.34,7.12,.05, 9.49,7.44,.1, 9.77,7.39,.15, 8.97,6.4,.03, 8.1,6.02,.12, 8.04,5.9,.1, 8,5.75,.12, 8,5.64,.15, 8.63,6.15,.25, 8.71,5.63,.15, 8.47,5.52,.2, 8.34,5.53,.2, 9.21,6.19,.03, 9.31,6.36,.05, 10.21,5.45,.2, 9.21,7.1,.8, 9.09,6.31,.75, 8.43,5.31,1, 9.45,6.01,.6, 8.8,5.38,.85,
8,5.15,.2, 8.42,5.05,.05, 8.05,4.8,.2, 7.97,4.69,.2, 8.64,4.2,.1, 8.63,4.41,.95, 8.02,4.12,.05, 8.17,3.7,.12, 7.97,3.65,.2, 8.28,3.8,.15, 7.81,3.55,.15, 7.78,3.39,.15, 8.62,3.69,.15, 8.89,3.96,.08, 9.29,4.02,0, 9.53,3.7,.05, 9.67,3.77,.05, 8.88,3.42,.1, 9.35,3.36,.15, 8.18,3.39,.98, 9,3.21,.15, 8.27,3.22,.15, 8.05,3.26,.3, 8.53,2.95,.18, 8.75,2.68,.15, 8.97,2.83,.15, 9.35,2.89,.15, 9.7,3.77,.05, 9.03,2.54,.15, 8.45,2.67,.8, 8.65,2.43,.75, 9.08,2.4,.7, 8.31,2.22,.3, 9.61,2.4,.2, 9.67,2.54,.2, 9.76,3.26,.65, 9.71,3,.65,
];

const filledBands = [tail, bandTop, bandUpper, bandMiddle, bandLower, bandBottom];

const toPoints = (band: number[]) => {
  const out: { x: number; y: number; b: number }[] = [];
  for (let i = 0; i < band.length; i += 3) out.push({ x: band[i], y: band[i + 1], b: band[i + 2] });
  return out;
};

const channel = (v: number, lo: number, hi: number) =>
  Math.round(255 * Math.min(1, Math.max(0, (v - lo) / (hi - lo))));

const colorOf = (p: { x: number; y: number; b: number }) =>
  `rgb(${channel(p.x, 4.35, 10.3)},${channel(p.y, 0.75, 8.25)},${Math.round(p.b * 255)})`;

export default function App() {
  const canvasRef = useRef<HTMLCanvasElement>(null);

  useEffect(() => {
    document.body.style.margin = '0';
    if (!canvasRef.current) return;

    const under = filledBands.flatMap(toPoints);
    const dots = under.filter((_, i) => i % 3 === 0);
    const top = [...toPoints(bridge), ...toPoints(standouts)];

    const frameAndLegend = {
      id: 'frameAndLegend',
      afterDraw(chart: Chart) {
        const { ctx, chartArea } = chart;
        ctx.save();
        ctx.strokeStyle = '#000';
        ctx.lineWidth = 4.4;
        ctx.strokeRect(chartArea.left, chartArea.top, chartArea.right - chartArea.left, chartArea.bottom - chartArea.top);

        ctx.fillStyle = '#000';
        ctx.textBaseline = 'alphabetic';
        ctx.textAlign = 'center';
        ctx.font = '66.7px "DejaVu Sans"';
        ctx.fillText(chartTitle, 1103, 92);

        ctx.beginPath();
        ctx.roundRect(230.5, 228.2, 412, 342, 9);
        ctx.fillStyle = '#fff';
        ctx.fill();
        ctx.strokeStyle = '#d9d9d9';
        ctx.lineWidth = 5;
        ctx.stroke();

        ctx.fillStyle = '#000';
        ctx.font = '55.5px "DejaVu Sans"';
        ctx.fillText(legendTitle, 437, 291.5);
        ctx.textAlign = 'left';
        legendLabels.forEach((label, i) => {
          const rowTop = 332.5 + i * 81.3;
          ctx.fillStyle = legendColors[i];
          ctx.fillRect(249, rowTop, 118, 44);
          ctx.fillStyle = '#000';
          ctx.fillText(label, 408, rowTop + 42);
        });
        ctx.restore();
      },
    };

    const tickFont = { family: '"DejaVu Sans"', size: 55.5 };
    const axisFont = { family: '"DejaVu Sans"', size: 66.7 };
    const chart = new Chart(canvasRef.current, {
      type: 'scatter',
      data: {
        // first dataset is drawn last
        datasets: [
          { data: top, pointBackgroundColor: top.map(colorOf), pointBorderWidth: 0, pointRadius: 10.2 },
          { data: dots, pointBackgroundColor: dots.map(colorOf), pointBorderWidth: 0, pointRadius: 10.2 },
          { data: under, pointBackgroundColor: under.map(colorOf), pointBorderWidth: 0, pointRadius: 13 },
        ],
      },
      options: {
        responsive: false,
        animation: false,
        devicePixelRatio: 1,
        layout: { padding: { top: 200, right: 40 } },
        plugins: { legend: { display: false }, tooltip: { enabled: false } },
        scales: {
          x: {
            type: 'linear',
            min: 4.06,
            max: 10.605,
            afterFit: (scale: any) => { scale.height = 221; },
            afterBuildTicks: (scale: any) => { scale.ticks = xTicks.map((value) => ({ value })); },
            border: { color: '#000', width: 4.4 },
            grid: { drawOnChartArea: false, drawTicks: true, tickLength: 19.4, tickWidth: 4.4, tickColor: '#000' },
            ticks: { color: '#000', font: tickFont, padding: 12, maxRotation: 0 },
            title: { display: true, text: 'UMAP 1', color: '#000', font: axisFont, padding: { top: 0, bottom: 30 } },
          },
          y: {
            type: 'linear',
            min: 0.362,
            max: 8.652,
            afterFit: (scale: any) => { scale.width = 202.5; },
            afterBuildTicks: (scale: any) => { scale.ticks = yTicks.map((value) => ({ value })); },
            border: { color: '#000', width: 4.4 },
            grid: { drawOnChartArea: false, drawTicks: true, tickLength: 19.4, tickWidth: 4.4, tickColor: '#000' },
            ticks: { color: '#000', font: tickFont, padding: 19, labelOffset: 2.5 },
            title: { display: true, text: 'UMAP 2', color: '#000', font: axisFont, padding: { top: 36, bottom: 0 } },
          },
        },
      },
      plugins: [frameAndLegend],
    });

    return () => chart.destroy();
  }, []);

  return <canvas ref={canvasRef} width={2102} height={1629} style={{ display: 'block' }} />;
}
